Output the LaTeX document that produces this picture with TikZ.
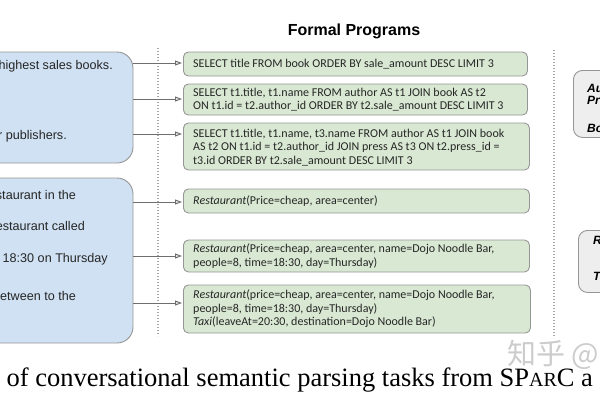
\documentclass[tikz,border=0pt]{standalone}
\usepackage{fontspec}
\setmainfont{Liberation Serif}
\setsansfont{Liberation Sans}
\newfontfamily\progfont{Carlito}
\newfontfamily\cjkfont{Noto Sans CJK SC}
\usetikzlibrary{arrows.meta}
\definecolor{qblue}{RGB}{207,225,242}
\definecolor{pgreen}{RGB}{217,232,211}
\definecolor{edgegray}{RGB}{150,150,150}
\definecolor{arrgray}{RGB}{110,110,110}
\definecolor{sgray}{RGB}{238,238,238}
\begin{document}
\begin{tikzpicture}[x=1pt,y=-1pt,
  query/.style={draw=edgegray, line width=0.9pt, fill=qblue, rounded corners=16pt, inner sep=0pt},
  qtext/.style={anchor=base east, inner sep=0pt, font=\sffamily\fontsize{12.6}{15}\selectfont, text=black!85},
  prog/.style={draw=edgegray, line width=0.9pt, fill=pgreen, rounded corners=5pt, anchor=west, inner sep=0pt},
  ptext/.style={anchor=west, align=left, inner sep=0pt, font=\progfont\fontsize{12.0}{13.5}\selectfont, text=black!85},
  schema/.style={draw=edgegray, line width=0.9pt, fill=sgray, rounded corners=9pt, inner sep=0pt},
  stext/.style={anchor=base west, inner sep=0pt, font=\sffamily\bfseries\itshape\fontsize{12}{14}\selectfont},
  arr/.style={draw=arrgray, line width=0.9pt, -{Triangle[open, fill=gray!25, length=7pt, width=5pt]}, shorten >=1pt},
  sep/.style={draw=gray!70, line width=1.1pt, dash pattern=on 0.9pt off 2.1pt},
]
\useasboundingbox (0,0) rectangle (600,400);
\clip (0,0) rectangle (600,400);

% question boxes
\node[query, minimum width=153pt, minimum height=111pt] (q1) at (56.5,107.5) {};
\node[query, minimum width=153pt, minimum height=165pt] (q2) at (56.5,260.5) {};
\node[qtext] (t11) at (113,69) {highest sales books.};
\node[qtext] (t12) at (67,139) {r publishers.};
\node[qtext] (t21) at (76,199) {staurant in the};
\node[qtext] (t22) at (85,230) {estaurant called};
\node[qtext] (t23) at (108,262) {18:30 on Thursday};
\node[qtext] (t24) at (76,300) {etween to the};

% separators
\coordinate (d1a) at (158,48); \coordinate (d1b) at (158,336);
\coordinate (d2a) at (554,50); \coordinate (d2b) at (554,338);
\draw[sep] (d1a) -- (d1b);
\draw[sep] (d2a) -- (d2b);

% title
\node[font=\sffamily\bfseries\fontsize{16}{18}\selectfont, anchor=base, inner sep=0pt] (title) at (354,35) {Formal Programs};

% programs
\node[prog, minimum width=344pt, minimum height=24pt] (p1) at (183,64) {};
\node[prog, minimum width=344pt, minimum height=31pt] (p2) at (183,99.5) {};
\node[prog, minimum width=346pt, minimum height=47pt] (p3) at (183,146.5) {};
\node[prog, minimum width=346pt, minimum height=24pt] (p4) at (183,201) {};
\node[prog, minimum width=346pt, minimum height=32pt] (p5) at (183,256) {};
\node[prog, minimum width=347pt, minimum height=48pt] (p6) at (183,309) {};

\node[ptext] (pt1) at ([xshift=10pt]p1.west) {SELECT title FROM book ORDER BY sale\_amount DESC LIMIT 3};
\node[ptext] (pt2) at ([xshift=10pt]p2.west) {SELECT t1.title, t1.name FROM author AS t1 JOIN book AS t2\\ON t1.id = t2.author\_id ORDER BY t2.sale\_amount DESC LIMIT 3};
\node[ptext] (pt3) at ([xshift=10pt,yshift=-1pt]p3.west) {SELECT t1.title, t1.name, t3.name FROM author AS t1 JOIN book\\AS t2 ON t1.id = t2.author\_id JOIN press AS t3 ON t2.press\_id =\\t3.id ORDER BY t2.sale\_amount DESC LIMIT 3};
\node[ptext] (pt4) at ([xshift=10pt]p4.west) {\textit{Restaurant}(Price=cheap, area=center)};
\node[ptext] (pt5) at ([xshift=10pt]p5.west) {\textit{Restaurant}(Price=cheap, area=center, name=Dojo Noodle Bar,\\people=8, time=18:30, day=Thursday)};
\node[ptext] (pt6) at ([xshift=10pt]p6.west) {\textit{Restaurant}(price=cheap, area=center, name=Dojo Noodle Bar,\\people=8, time=18:30, day=Thursday)\\\textit{Taxi}(leaveAt=20:30, destination=Dojo Noodle Bar)};

% arrows
\draw[arr] (q1.east |- 0,63) -- (p1.west |- 0,63);
\draw[arr] (q1.east |- 0,99) -- (p2.west |- 0,99);
\draw[arr] (q1.east |- 0,134) -- (p3.west |- 0,134);
\draw[arr] (q2.east |- 0,202) -- (p4.west |- 0,202);
\draw[arr] (q2.east |- 0,256) -- (p5.west |- 0,256);
\draw[arr] (q2.east |- 0,303) -- (p6.west |- 0,303);

% schema boxes
\node[schema, minimum width=60pt, minimum height=67pt, anchor=north west] (s1) at (573,70) {};
\node[stext] (s11) at (587,92) {Author};
\node[stext] (s12) at (587,104) {Press};
\node[stext] (s13) at (587,132) {Book};
\node[schema, minimum width=60pt, minimum height=62pt, anchor=north west] (s2) at (578,230) {};
\node[stext] (s21) at (593,244) {Restaurant};
\node[stext] (s22) at (593,280) {Taxi};

% caption and watermark
\node[anchor=base west, inner sep=0pt, font=\fontsize{26.5}{30}\selectfont] (cap) at (-12,386) {e of conversational semantic parsing tasks from SP{\fontsize{20}{20}\selectfont AR}C a};
\node[anchor=base west, inner sep=0pt, font=\cjkfont\fontsize{29}{29}\selectfont, text=gray, opacity=0.4] (wm) at (507,364) {知乎 @};
\end{tikzpicture}
\end{document}
